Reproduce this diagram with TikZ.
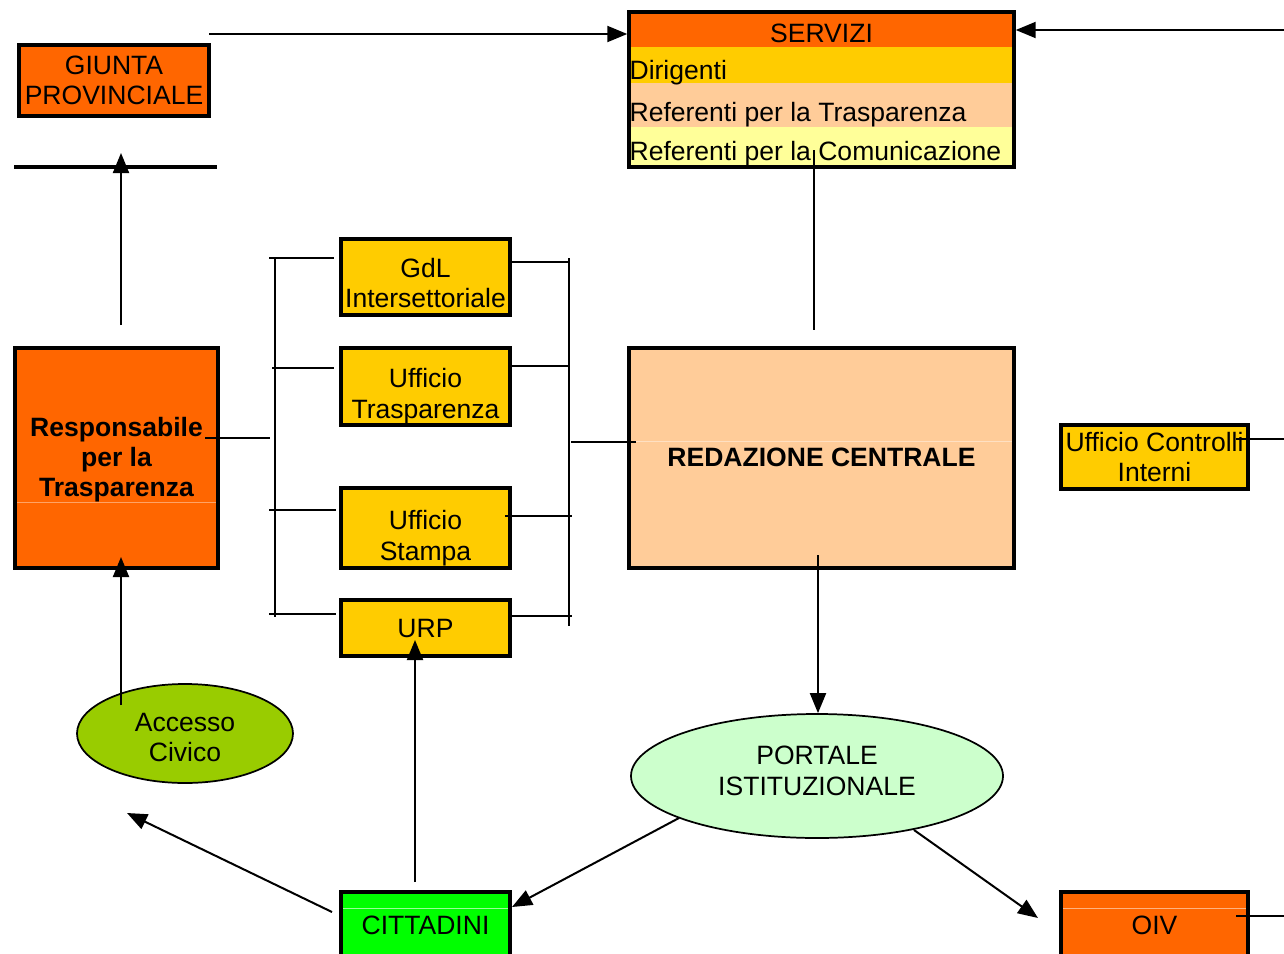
\documentclass[tikz,border=0pt]{standalone}
\usepackage{fontspec}
\setmainfont{Liberation Sans}
\usetikzlibrary{arrows.meta,shapes.geometric}
\definecolor{orng}{HTML}{FF6600}
\definecolor{yel}{HTML}{FFCC00}
\definecolor{peach}{HTML}{FFCC99}
\definecolor{lyel}{HTML}{FFFF99}
\definecolor{lgreen}{HTML}{CCFFCC}
\definecolor{lime}{HTML}{99CC00}
\definecolor{grn}{HTML}{00FF00}
\begin{document}
\begin{tikzpicture}[x=0.75pt,y=-0.75pt,
  font=\fontsize{19.9}{23}\selectfont,
  box/.style={draw=black, line width=2.6pt, inner sep=0pt, align=center, text=black},
  conn/.style={line width=1.5pt},
  thick line/.style={line width=2.6pt},
  arr/.style={conn, -{Triangle[length=15pt,width=12pt]}},
  ell/.style={ellipse, draw=black, line width=1.3pt, inner sep=0pt, align=center},
  txt/.style={align=center, inner sep=0pt},
  rowtext/.style={anchor=west, inner sep=1pt, text height=14pt, text depth=4pt},
  faint/.style={line width=0.5pt}]
\useasboundingbox (0,0) rectangle (1284,953);
\clip (0,0) rectangle (1284,953);

% GIUNTA
\node[box, fill=orng, minimum width=142.5pt, minimum height=53.25pt] (giunta) at (114,80.5) {GIUNTA\\PROVINCIALE};

% SERVIZI
\fill[orng] (629,12) rectangle (1014,47);
\fill[yel] (629,47) rectangle (1014,83);
\fill[peach] (629,83) rectangle (1014,127);
\fill[lyel] (629,127) rectangle (1014,167);
\node[draw=black, line width=2.6pt, minimum width=288.75pt, minimum height=116.25pt, inner sep=0pt] (servizi) at (821.5,89.5) {};
\node[inner sep=1pt, text height=14pt, text depth=4pt] (sv) at (821.5,36) {SERVIZI};
\node[rowtext] (dir) at (628,73) {Dirigenti};
\node[rowtext] (rtr) at (628,115) {Referenti per la Trasparenza};
\node[rowtext] (rco) at (628,154) {Referenti per la Comunicazione};

% Responsabile
\node[box, fill=orng, minimum width=152.25pt, minimum height=165pt] (resp) at (116.5,458) {};
\draw[faint, draw=orng!60!white] (17,502) -- (216,502);
\node[txt, font=\fontsize{19.9}{22.5}\selectfont\bfseries] (respt) at (116.5,460) {Responsabile\\per la\\Trasparenza};

% middle boxes
\node[box, fill=yel, minimum width=126.75pt, minimum height=57pt] (gdl) at (425.5,277) {};
\node[txt] (gdlt) at (425.5,283) {GdL\\Intersettoriale};
\node[box, fill=yel, minimum width=126.75pt, minimum height=57.75pt] (utr) at (425.5,386.5) {};
\node[txt] (utrt) at (425.5,396) {Ufficio\\Trasparenza};
\node[box, fill=yel, minimum width=126.75pt, minimum height=60pt] (ust) at (425.5,528) {};
\node[txt] (ustt) at (425.5,538) {Ufficio\\Stampa};
\node[box, fill=yel, minimum width=126.75pt, minimum height=42pt] (urp) at (425.5,628) {URP};

% Redazione
\node[box, fill=peach, minimum width=288.75pt, minimum height=165pt] (red) at (821.5,458) {};
\draw[faint, draw=peach!60!white] (631,441) -- (1012,441);
\node[txt, font=\fontsize{19.9}{23}\selectfont\bfseries] (redt) at (821.5,457) {REDAZIONE CENTRALE};

% Ufficio Controlli Interni
\node[box, fill=yel, minimum width=140.25pt, minimum height=48pt] (uci) at (1154.5,457) {Ufficio Controlli\\Interni};

% ellipses
\node[ell, fill=lgreen, minimum width=279pt, minimum height=93pt] (portale) at (817,776) {};
\node[txt] (portalet) at (817,771) {PORTALE\\ISTITUZIONALE};
\node[ell, fill=lime, minimum width=162pt, minimum height=74.25pt] (accesso) at (185,733.5) {};
\node[txt] (accessot) at (185,737.5) {Accesso\\Civico};

% bottom boxes
\node[box, fill=grn, minimum width=126.75pt, minimum height=48pt] (citt) at (425.5,924) {};
\draw[faint, draw=grn!40!white] (343,908) -- (508,908);
\node[txt] (cittt) at (425.5,925) {CITTADINI};
\node[box, fill=orng, minimum width=140.25pt, minimum height=48pt] (oiv) at (1154.5,924) {};
\draw[faint, draw=orng!50!white] (1063,908) -- (1246,908);
\node[txt] (oivt) at (1154.5,925) {OIV};

% coordinates for free ends
\coordinate (gs) at (209,34);
\coordinate (rs) at (1284,30);
\coordinate (sva) at (814,150);
\coordinate (svb) at (814,330);
\coordinate (hla) at (14,167);
\coordinate (hlb) at (217,167);
\coordinate (ra) at (121,325);
\coordinate (rb) at (121,153);
\coordinate (rl) at (205,438);
\coordinate (lb) at (270,438);
\coordinate (lt) at (275,259);
\coordinate (lbo) at (275,617);
\coordinate (rt) at (569,258);
\coordinate (rbo) at (569,626);
\coordinate (rm) at (571,442);
\coordinate (rmr) at (636,442);
\coordinate (redb) at (818,555);
\coordinate (acc1) at (121,705);
\coordinate (acc2) at (121,557);
\coordinate (ct1) at (415,882);
\coordinate (ct2) at (415,640);
\coordinate (ca1) at (332,912);
\coordinate (ca2) at (127,813);
\coordinate (pc1) at (679,818);
\coordinate (pc2) at (512,907);
\coordinate (po1) at (914,830);
\coordinate (po2) at (1038,918);
\coordinate (oivr) at (1236,916);
\coordinate (oive) at (1284,916);
\coordinate (ucir) at (1236,439);
\coordinate (ucie) at (1284,439);

% top connectors
\draw[arr] (gs) -- (gs -| servizi.west);
\draw[arr] (rs) -- (rs -| servizi.east);
\draw[conn] (sva) -- (svb);
\draw[thick line] (hla) -- (hlb);
\draw[arr] (ra) -- (rb);

% left bracket
\draw[conn] (rl) -- (lb);
\draw[conn] (lt) -- (lbo);
\draw[conn] (269,258) -- (334,258);
\draw[conn] (272,368) -- (334,368);
\draw[conn] (269,510) -- (336,510);
\draw[conn] (269,614) -- (336,614);

% right bracket
\draw[conn] (rt) -- (rbo);
\draw[conn] (508,262) -- (569,262);
\draw[conn] (508,366) -- (568,366);
\draw[conn] (505,516) -- (572,516);
\draw[conn] (508,616) -- (572,616);
\draw[conn] (rm) -- (rmr);

% lower arrows
\draw[arr] (redb) -- (redb |- portale.north);
\draw[arr] (acc1) -- (acc2);
\draw[arr] (ct1) -- (ct2);
\draw[arr] (ca1) -- (ca2);
\draw[arr] (pc1) -- (pc2);
\draw[arr] (po1) -- (po2);
\draw[conn] (oivr) -- (oive);
\draw[conn] (ucir) -- (ucie);
\end{tikzpicture}
\end{document}
